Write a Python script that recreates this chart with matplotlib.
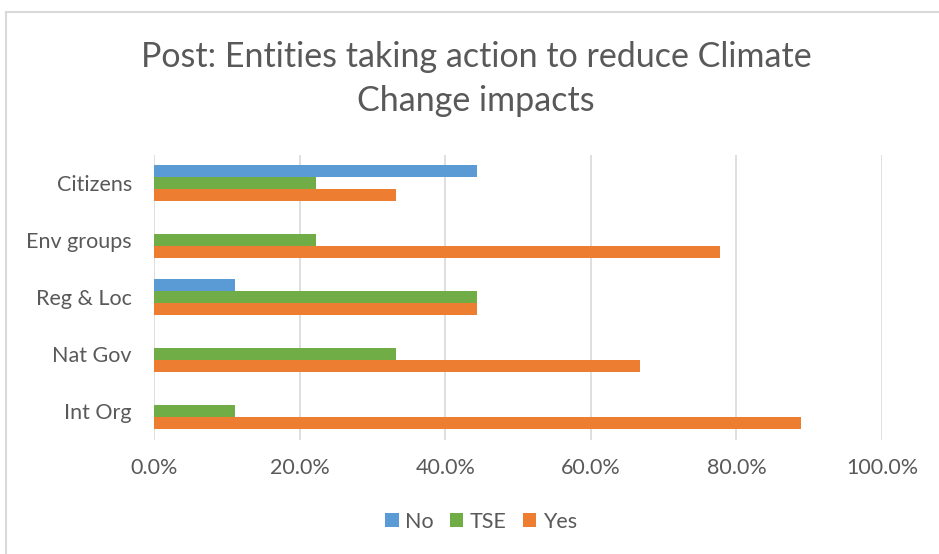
import matplotlib
matplotlib.use("Agg")
import matplotlib.pyplot as plt
from matplotlib.lines import Line2D
from matplotlib.patches import Patch
import numpy as np

plt.rcParams['font.family'] = ['Lato', 'DejaVu Sans']

categories = ["Citizens", "Env groups", "Reg & Loc", "Nat Gov", "Int Org"]
no_vals = [44.4, 0.0, 11.1, 0.0, 0.0]
tse_vals = [22.2, 22.2, 44.4, 33.3, 11.1]
yes_vals = [33.3, 77.8, 44.4, 66.7, 88.9]
series = [("No", no_vals, "#5B9BD5"), ("TSE", tse_vals, "#70AD47"), ("Yes", yes_vals, "#ED7D31")]
xticks = [0, 20, 40, 60, 80, 100]
xtick_labels = ["0.0%", "20.0%", "40.0%", "60.0%", "80.0%", "100.0%"]

W, H = 939, 554
fig = plt.figure(figsize=(W / 100, H / 100), dpi=100)
ax = fig.add_axes([154 / W, 1 - 439.5 / H, (882 - 154) / W, (439.5 - 154.5) / H])

n = len(categories)
pos = np.arange(n)[::-1]  # first category at top
bh = 0.21
offsets = [-bh, 0, bh]  # No on top, Yes at bottom
for (name, vals, color), off in zip(series, offsets):
    ax.barh(pos - off, vals, height=bh, color=color, label=name, zorder=3)

ax.set_xlim(0, 100)
ax.set_ylim(-0.5, n - 0.5)
ax.set_yticks(pos)
ax.set_yticklabels(categories, fontsize=15.5, color="#595959")
ax.set_xticks(xticks)
ax.set_xticklabels(xtick_labels, fontsize=15.5, color="#595959")
ax.tick_params(axis="both", length=0)
ax.tick_params(axis="x", pad=13)
ax.tick_params(axis="y", pad=16)
ax.grid(axis="x", color="#D9D9D9", linewidth=1.2, zorder=0)
for s in ax.spines.values():
    s.set_visible(False)

fig.text(476 / W, 1 - 57 / H, "Post: Entities taking action to reduce Climate",
         ha="center", va="center", fontsize=24.5, color="#595959")
fig.text(476 / W, 1 - 101 / H, "Change impacts",
         ha="center", va="center", fontsize=24.5, color="#595959")

handles = [Patch(facecolor=c, edgecolor="none", label=nm) for nm, _, c in series]
fig.legend(handles=handles, loc="center", bbox_to_anchor=(481 / W, 1 - 522 / H),
           ncol=3, frameon=False, fontsize=15.5, labelcolor="#595959",
           handlelength=0.62, handleheight=0.62, handletextpad=0.3, columnspacing=0.75)

# chart-area border (left and top edges)
fig.add_artist(Line2D([5.5 / W, 5.5 / W], [0, 1 - 11.5 / H], transform=fig.transFigure,
                      color="#D9D9D9", linewidth=1.5))
fig.add_artist(Line2D([5.5 / W, 1], [1 - 11.5 / H, 1 - 11.5 / H], transform=fig.transFigure,
                      color="#D9D9D9", linewidth=1.5))

fig.savefig("out.png", dpi=100, facecolor="white")
